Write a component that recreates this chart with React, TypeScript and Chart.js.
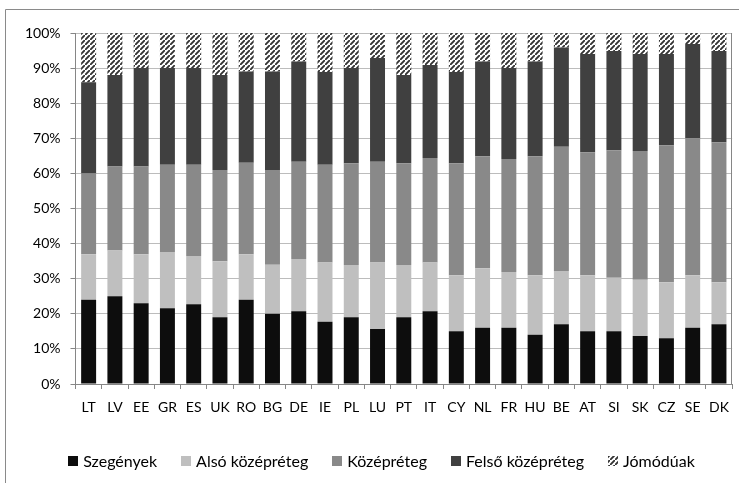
import React, { useEffect, useRef } from "react";
import { Chart, registerables } from "chart.js";

Chart.register(...registerables);

const countries = ["LT","LV","EE","GR","ES","UK","RO","BG","DE","IE","PL","LU","PT","IT","CY","NL","FR","HU","BE","AT","SI","SK","CZ","SE","DK"];
const szegenyek = [24,25,23,21.6,22.7,19,24,20,20.7,17.7,19,15.7,19,20.7,15,16,16,14,17,15,15,13.7,13,16,17];
const alsoKozep = [13,13,14,16,13.8,16,13,14,14.9,16.9,14.9,18.9,14.9,13.9,16,17,15.9,17,15.2,16,15.3,16,16,15,12];
const kozep = [23,24,25,24.9,26,26,26,27,27.7,27.9,29,28.7,29,29.8,31.9,31.9,32.2,33.9,35.4,35,36.3,36.7,39,39,39.9];
const felsoKozep = [26,26,28,27.5,27.5,27,26,28,28.6,26.4,27.1,29.6,25.1,26.5,26,27,25.9,27,28.3,28,28.3,27.6,26,26.9,26];
const jomoduak = [14,12,10,10,10,12,11,11,8.1,11.1,10,7.1,12,9.1,11.1,8.1,10,8.1,4.1,6,5.1,6,6,3.1,5.1];
const seriesNames = ["Szegények","Alsó középréteg","Középréteg","Felső középréteg","Jómódúak"];
const yTicks = [0,10,20,30,40,50,60,70,80,90,100];

const FONT = "Lato, 'DejaVu Sans', sans-serif";

function makeHatch(): CanvasPattern | string {
  const c = document.createElement("canvas");
  const s = 5;
  c.width = s; c.height = s;
  const ctx = c.getContext("2d");
  if (!ctx) return "#404040";
  ctx.fillStyle = "#ffffff";
  ctx.fillRect(0, 0, s, s);
  ctx.strokeStyle = "#333333";
  ctx.lineWidth = 1.9;
  ctx.beginPath();
  ctx.moveTo(-1, s + 1); ctx.lineTo(s + 1, -1);
  ctx.moveTo(-1 - s, 1); ctx.lineTo(1, -1 - s);
  ctx.moveTo(s - 1, 2 * s + 1); ctx.lineTo(2 * s + 1, s - 1);
  ctx.stroke();
  return ctx.createPattern(c, "repeat") || "#404040";
}

const framePlugin = {
  id: "frame",
  beforeDraw(chart: any) {
    const ctx = chart.ctx;
    ctx.save();
    ctx.fillStyle = "#ffffff";
    ctx.fillRect(0, 0, chart.width, chart.height);
    ctx.strokeStyle = "#8a8a8a";
    ctx.lineWidth = 1;
    ctx.beginPath();
    ctx.moveTo(5.5, chart.height);
    ctx.lineTo(5.5, 9.5);
    ctx.lineTo(chart.width, 9.5);
    ctx.stroke();
    ctx.restore();
  },
  afterDraw(chart: any) {
    const { ctx, chartArea } = chart;
    ctx.save();
    ctx.strokeStyle = "#868686";
    ctx.lineWidth = 1;
    ctx.beginPath();
    const x = Math.round(chartArea.right) - 0.5;
    ctx.moveTo(x, chartArea.top);
    ctx.lineTo(x, chartArea.bottom);
    ctx.stroke();

    // legend
    const fontSize = 16;
    const box = 10;
    const boxGap = 5;
    const itemGap = 24;
    const centerX = 381.5;
    const centerY = 461;
    ctx.font = `${fontSize}px ${FONT}`;
    ctx.textBaseline = "middle";
    ctx.textAlign = "left";
    const items = chart.data.datasets.map((d: any) => ({
      label: d.label,
      fill: d.backgroundColor,
      w: ctx.measureText(d.label).width,
    }));
    const total = items.reduce((a: number, it: any) => a + box + boxGap + it.w, 0) + itemGap * (items.length - 1);
    let xx = centerX - total / 2;
    items.forEach((it: any) => {
      ctx.fillStyle = it.fill;
      ctx.fillRect(Math.round(xx), Math.round(centerY - box / 2), box, box);
      ctx.fillStyle = "#000";
      ctx.fillText(it.label, xx + box + boxGap, centerY + 1);
      xx += box + boxGap + it.w + itemGap;
    });
    ctx.restore();
  },
};

export default function App() {
  const ref = useRef<HTMLCanvasElement | null>(null);
  useEffect(() => {
    if (!ref.current) return;
    const hatch = makeHatch();
    const colors: any[] = ["#0d0d0d", "#bfbfbf", "#898989", "#404040", hatch];
    const values = [szegenyek, alsoKozep, kozep, felsoKozep, jomoduak];
    const chart = new Chart(ref.current, {
      type: "bar",
      data: {
        labels: countries,
        datasets: values.map((v, i) => ({
          label: seriesNames[i],
          data: v,
          backgroundColor: colors[i],
          borderWidth: 0,
          barPercentage: 0.57,
          categoryPercentage: 1,
        })),
      },
      options: {
        animation: false,
        responsive: false,
        devicePixelRatio: 1,
        layout: { padding: { left: 23, right: 4, top: 33, bottom: 0 } },
        plugins: {
          tooltip: { enabled: false },
          legend: { display: false },
        },
        scales: {
          x: {
            stacked: true,
            grid: { drawOnChartArea: false, drawTicks: true, tickLength: 5, tickColor: "#868686", offset: true },
            border: { color: "#868686" },
            ticks: { color: "#000", padding: 10, maxRotation: 0, autoSkip: false, font: { family: FONT, size: 14 } },
            afterFit: (s: any) => { s.height = 99; },
          },
          y: {
            stacked: true,
            min: 0,
            max: 100,
            afterBuildTicks: (s: any) => { s.ticks = yTicks.map((v) => ({ value: v })); },
            grid: { color: "#bcbcbc", tickColor: "#868686", tickLength: 5 },
            border: { color: "#868686" },
            ticks: { color: "#000", padding: 10, font: { family: FONT, size: 14 }, callback: (v: any) => v + "%" },
            afterFit: (s: any) => { s.width = 52.5; },
          },
        },
      },
      plugins: [framePlugin],
    });
    return () => chart.destroy();
  }, []);
  return (
    <div style={{ position: "fixed", left: 0, top: 0, width: 739, height: 483, overflow: "hidden", background: "#fff" }}>
      <canvas ref={ref} width={739} height={483} style={{ display: "block" }} />
    </div>
  );
}
